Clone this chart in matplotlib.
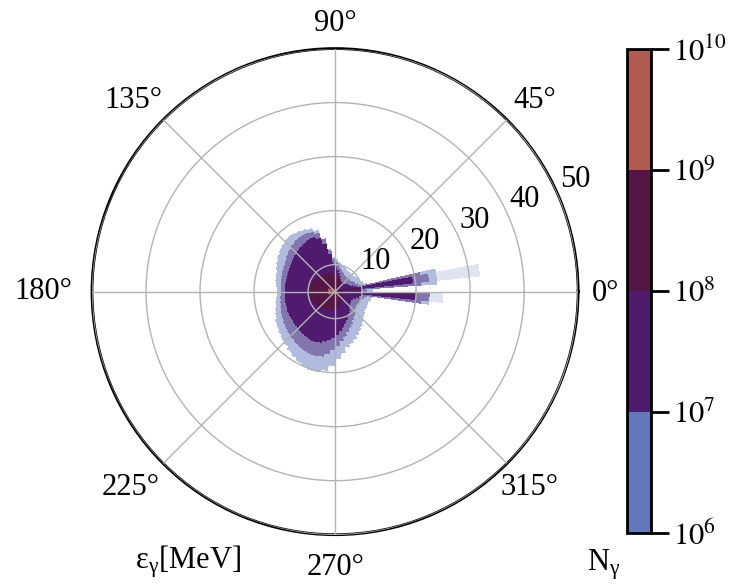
import numpy as np
import matplotlib

matplotlib.use("Agg")
import matplotlib.pyplot as plt
from matplotlib.colors import BoundaryNorm, ListedColormap, to_rgb
from matplotlib.transforms import ScaledTranslation

plt.rcParams["font.family"] = "serif"
plt.rcParams["font.serif"] = ["Liberation Serif", "DejaVu Serif"]
plt.rcParams["mathtext.fontset"] = "stix"

# colour levels of photon number per bin
count_bounds = [1e6, 1e7, 1e8, 1e9, 1e10]
level_colors = ["#6377bb", "#501a6e", "#561645", "#b05a52"]
level_values = [10**6.5, 10**7.5, 10**8.5, 10**9.5]

# radial extent [MeV] of each density zone of the central blob, per 5 deg sector (0..355)
r_red = [5, 5, 5, 5, 5, 5, 5, 5, 5, 5, 5, 5,
         5, 5, 5, 5, 5, 5, 5, 5, 5, 5, 5, 5,
         5, 5, 5, 5, 5.8, 5.8, 6.3, 6.3, 6.3, 6.3, 6.3, 6.3,
         6.3, 6.3, 6.3, 6.3, 6.3, 6.3, 5.8, 5.8, 5, 5, 5, 5,
         5, 5, 5, 5, 5, 5, 5, 5, 5, 5, 5, 5,
         5, 5, 5, 5, 5, 5, 5, 5, 5, 5, 5, 5]
r_dark = [6.3, 6.3, 6.2, 6.1, 6.0, 6.0, 6.0, 6.0, 6.1, 6.3, 6.6, 6.9,
          7.2, 7.5, 7.7, 7.9, 8.0, 8.1, 8.2, 8.3, 8.4, 8.5, 8.6, 8.7,
          8.8, 8.9, 9.0, 9.1, 9.2, 9.3, 9.4, 9.5, 9.6, 9.7, 9.8, 9.8,
          9.8, 9.8, 9.7, 9.6, 9.5, 9.4, 9.3, 9.2, 9.1, 9.0, 8.9, 8.8,
          8.7, 8.6, 8.5, 8.4, 8.4, 8.3, 8.2, 8.0, 7.8, 7.6, 7.4, 7.2,
          7.0, 6.8, 6.6, 6.5, 6.4, 6.4, 6.3, 6.3, 6.3, 6.3, 6.3, 6.3]
r_purple = [10, 9.5, 9, 8.5, 8, 7.8, 7.5, 7.3, 7.2, 7.2, 7.2, 7.2,
            7.3, 7.5, 8, 8.5, 9, 9.5, 10.2, 12, 14, 15.3, 15.8, 15.8,
            15.6, 15.4, 15.2, 15, 14.8, 14.6, 14.5, 14.4, 14.3, 14.3, 14.3, 14.3,
            14.3, 14.3, 14.4, 14.4, 14.5, 14.5, 14.5, 14.6, 14.6, 14.7, 14.8, 14.9,
            15, 15, 14.8, 14.4, 14, 13.6, 13, 12.4, 11.8, 11.2, 10.7, 10.2,
            9.8, 9.4, 9, 8.7, 8.5, 8.4, 8.4, 8.6, 9, 9.5, 10, 10]
r_speckle = [11, 10.5, 10, 9.5, 9, 8.8, 8.6, 8.5, 8.4, 8.4, 8.4, 8.5,
             8.6, 8.8, 9.1, 9.5, 10, 10.5, 11, 12.8, 15, 16.3, 16.8, 17,
             17, 16.9, 16.7, 16.4, 16.1, 15.8, 15.6, 15.4, 15.3, 15.2, 15.1, 15.1,
             15.1, 15.2, 15.3, 15.5, 15.7, 15.9, 16.1, 16.3, 16.5, 16.7, 16.9, 17.1,
             17.3, 17.4, 17.4, 17.2, 16.6, 15.8, 15, 14.2, 13.5, 12.8, 12.2, 11.7,
             11.2, 10.8, 10.4, 10, 9.8, 9.7, 9.7, 9.8, 10.1, 10.5, 11, 11]
r_blue = [12, 11.5, 11, 10.5, 10, 10, 9.8, 9.6, 9.5, 9.5, 9.5, 9.5,
          9.6, 9.8, 10, 10.3, 10.6, 11, 11.5, 13, 15, 16.8, 17.5, 17.8,
          18, 18.2, 18.2, 18, 17.7, 17.4, 17, 16.7, 16.4, 16.2, 16, 15.8,
          15.8, 16, 16.2, 16.5, 16.8, 17.2, 17.5, 17.8, 18.1, 18.4, 18.8, 19.2,
          19.6, 19.9, 20.2, 20.2, 19.7, 18.7, 17.5, 16.5, 15.5, 15, 14.5, 14,
          13.5, 13, 12.5, 12, 11.8, 11.5, 11.5, 11.5, 11.5, 11.8, 12, 12]

# two narrow jets in forward direction [deg, MeV]
jet_theta_lo = [6, 354]
jet_theta_hi = [11.5, 359.5]
jet_r_dark = [9.5, 9.5]
jet_r_purple = [19.5, 20]
jet_fringe_lo = [4, 352.5]
jet_fringe_hi = [13, 360]
jet_r_speckle = [21, 21]
jet_r_blue = [24, 22.5]
jet_r_sparse = [32, 25]

# angular tick labels and their offset (px) from the rim
theta_ticks = [0, 45, 90, 135, 180, 225, 270, 315]
theta_label_dx = [27, 28, 0, -30, -49, -33, 0, 23]
theta_label_dy = [2, 23, 29, 23, 4, -21, -29, -21]

theta_edges = np.arange(0, 361, 1)
r_edges = np.arange(5, 35.01, 0.1)
theta_mid = 0.5 * (theta_edges[1:] + theta_edges[:-1])
r_mid = 0.5 * (r_edges[1:] + r_edges[:-1])
sector = (theta_mid // 5).astype(int)
R = r_mid[:, None]

core = np.zeros((len(r_mid), len(theta_mid)))
for vals, lev in zip([r_purple, r_dark, r_red], level_values[1:]):
    core = np.where(R < np.asarray(vals)[sector][None, :], lev, core)
speckle = R < np.asarray(r_speckle)[sector][None, :]
blue = R < np.asarray(r_blue)[sector][None, :]
sparse = np.zeros_like(blue)

for j in range(len(jet_theta_lo)):
    sel = ((theta_mid >= jet_theta_lo[j]) & (theta_mid < jet_theta_hi[j]))[None, :]
    wide = ((theta_mid >= jet_fringe_lo[j]) & (theta_mid < jet_fringe_hi[j]))[None, :]
    core = np.where(sel & (R < jet_r_purple[j]), np.maximum(core, level_values[1]), core)
    core = np.where(sel & (R < jet_r_dark[j]), np.maximum(core, level_values[2]), core)
    speckle |= wide & (R < jet_r_speckle[j]) | sel & (R < jet_r_speckle[j] + 1.5)
    blue |= wide & (R < jet_r_blue[j])
    sparse |= sel & (R < jet_r_sparse[j])

core = np.ma.masked_less_equal(core, 0)

cmap = ListedColormap(level_colors)
norm = BoundaryNorm(count_bounds, cmap.N)


def washed(rgb, a):
    return tuple(a * np.array(rgb) + (1 - a))


mix = 0.5 * (np.array(to_rgb(level_colors[0])) + np.array(to_rgb(level_colors[1])))
th = np.deg2rad(theta_edges)

fig = plt.figure(figsize=(7.3, 5.85), dpi=100)
ax = fig.add_axes([0.126, 0.086, 0.666, 0.831], projection="polar")
for mask, col in [(sparse, washed(to_rgb(level_colors[0]), 0.2)),
                  (blue, washed(to_rgb(level_colors[0]), 0.5)),
                  (speckle, washed(mix, 0.75))]:
    ax.pcolormesh(th, r_edges, np.ma.masked_where(~mask, mask.astype(float)),
                  cmap=ListedColormap([col]), shading="flat", antialiased=False)
mesh = ax.pcolormesh(th, r_edges, core, cmap=cmap, norm=norm, shading="flat",
                     antialiased=False)

ax.set_ylim(5, 50)
ax.set_yticks([10, 20, 30, 40, 50])
ax.set_yticklabels(["10", "20", "30", "40", "50"])
ax.set_rlabel_position(22.5)
ax.tick_params(axis="y", labelsize=22)
for lbl in ax.get_yticklabels():
    lbl.set_transform(lbl.get_transform() + ScaledTranslation(0, 0.05, fig.dpi_scale_trans))

ax.set_xticks(np.deg2rad(theta_ticks))
ax.set_xticklabels([])
for a, dx, dy in zip(theta_ticks, theta_label_dx, theta_label_dy):
    ax.annotate(f"{a}°", xy=(np.deg2rad(a), 50), xytext=(dx * 0.72, dy * 0.72),
                textcoords="offset points", ha="center", va="center_baseline",
                fontsize=22, annotation_clip=False)
ax.grid(True, color="#b3b3b3", linewidth=1)
ax.set_axisbelow(False)
ax.spines["polar"].set_linewidth(2)

cax = fig.add_axes([0.859, 0.089, 0.033, 0.827])
cb = fig.colorbar(mesh, cax=cax, ticks=count_bounds)
cb.ax.set_yticklabels([r"$10^{6}$", r"$10^{7}$", r"$10^{8}$", r"$10^{9}$", r"$10^{10}$"])
cb.outline.set_linewidth(2)
cax.tick_params(length=13, width=2, labelsize=22, pad=3)

fig.text(135 / 730, 1 - 569 / 585, r"$\mathregular{ε_{γ}}$[MeV]", fontsize=22, va="baseline")
fig.text(587 / 730, 1 - 571 / 585, r"$\mathregular{N_{γ}}$", fontsize=22, va="baseline")

fig.savefig("out.png", dpi=100)
